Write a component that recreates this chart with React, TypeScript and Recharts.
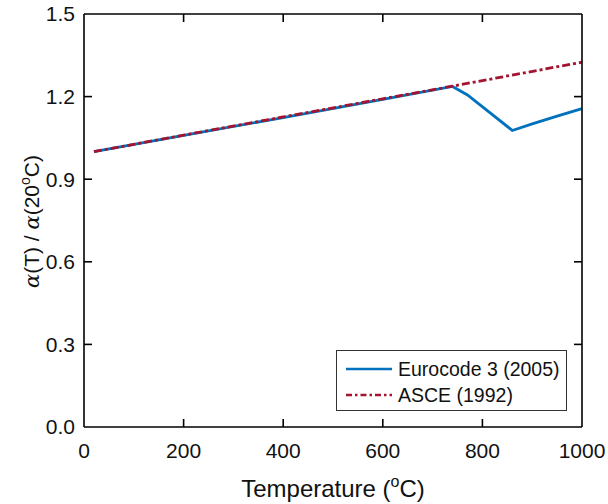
import React from 'react';
import { LineChart, Line, XAxis, YAxis, Label, ReferenceLine } from 'recharts';

const xTicks = [0, 200, 400, 600, 800, 1000];
const yTicks = [0, 0.3, 0.6, 0.9, 1.2, 1.5];

const eurocodeT = [20, 200, 400, 600, 740, 770, 860, 900, 950, 1000];
const eurocodeV = [1.0, 1.059, 1.124, 1.190, 1.237, 1.206, 1.077, 1.101, 1.129, 1.156];

const asceT = [20, 200, 400, 600, 740, 800, 1000];
const asceV = [1.0, 1.060, 1.126, 1.192, 1.238, 1.258, 1.325];

const eurocodeData = eurocodeT.map((T, i) => ({ T, v: eurocodeV[i] }));
const asceData = asceT.map((T, i) => ({ T, v: asceV[i] }));

const BLUE = '#0072BD';
const RED = '#A2142F';
const FONT = '"Liberation Sans", Arial, sans-serif';
const TXT = '#111';

const X_MIN = 0, X_MAX = 1000, Y_MIN = 0, Y_MAX = 1.5;
const PLOT_W = 498, PLOT_H = 413;
const TICK_PX = 8;
const tickLenY = (TICK_PX / PLOT_H) * (Y_MAX - Y_MIN);
const tickLenX = (TICK_PX / PLOT_W) * (X_MAX - X_MIN);

const axisLine = { stroke: '#000', strokeWidth: 1.6 };

const BottomTick = (props: any) => {
  const { x, y, payload } = props;
  return (
    <text x={x} y={y + 16} dy="0.71em" textAnchor="middle" fontFamily={FONT} fontSize={21} fill={TXT}>
      {payload.value}
    </text>
  );
};

const LeftTick = (props: any) => {
  const { x, y, payload } = props;
  return (
    <text x={x - 9} y={y} dy="0.355em" textAnchor="end" fontFamily={FONT} fontSize={21} fill={TXT}>
      {Number(payload.value).toFixed(1)}
    </text>
  );
};

const XLabel = (props: any) => {
  const vb = props.viewBox || { x: 84, y: 427, width: 498, height: 77 };
  const cx = vb.x + vb.width / 2;
  return (
    <text x={cx} y={vb.y + 70} textAnchor="middle" fontFamily={FONT} fontSize={24} fill={TXT}>
      <tspan>Temperature (</tspan>
      <tspan fontSize={16} dy={-10}>o</tspan>
      <tspan dy={10}>C)</tspan>
    </text>
  );
};

const YLabel = (props: any) => {
  const vb = props.viewBox || { x: 0, y: 14, width: 84, height: 413 };
  const cx = 39;
  const cy = vb.y + vb.height / 2 + 1;
  return (
    <text
      x={cx}
      y={cy}
      textAnchor="middle"
      transform={`rotate(-90 ${cx} ${cy})`}
      fontFamily={FONT}
      fontSize={21}
      fill={TXT}
    >
      <tspan fontFamily='"DejaVu Serif", serif' fontStyle="italic">α</tspan>
      <tspan>(T) / </tspan>
      <tspan fontFamily='"DejaVu Serif", serif' fontStyle="italic">α</tspan>
      <tspan>(20</tspan>
      <tspan fontSize={14} dy={-9}>o</tspan>
      <tspan dy={9}>C)</tspan>
    </text>
  );
};

const legendItems = [
  { name: 'Eurocode 3 (2005)', color: BLUE, dash: undefined as string | undefined },
  { name: 'ASCE (1992)', color: RED, dash: '6 3 2.5 3' },
];

const LegendBox = () => (
  <div
    style={{
      position: 'absolute',
      left: 336,
      top: 350,
      width: 231,
      height: 61,
      border: '1px solid #333',
      background: '#fff',
      fontFamily: FONT,
      fontSize: 19.5,
      color: TXT,
      boxSizing: 'border-box',
    }}
  >
    {legendItems.map((e, i) => (
      <div
        key={e.name}
        style={{ position: 'absolute', left: 9, top: 6 + i * 26, height: 24, display: 'flex', alignItems: 'center' }}
      >
        <svg width={47} height={10} style={{ display: 'block' }}>
          <line x1={0} y1={5} x2={46} y2={5} stroke={e.color} strokeWidth={2.6} strokeDasharray={e.dash} />
        </svg>
        <span style={{ marginLeft: 5, whiteSpace: 'nowrap' }}>{e.name}</span>
      </div>
    ))}
  </div>
);

const tickSegStyle = { stroke: '#000', strokeWidth: 1.6, ifOverflow: 'visible' as const };

export default function App() {
  return (
    <div style={{ position: 'fixed', left: 0, top: 0, width: 608, height: 504, background: '#fff' }}>
      <LineChart width={608} height={504} margin={{ top: 13, right: 25, left: 0, bottom: 0 }}>
        <XAxis
          xAxisId="b"
          type="number"
          dataKey="T"
          domain={[X_MIN, X_MAX]}
          ticks={xTicks}
          height={77}
          tickSize={0}
          tickMargin={0}
          axisLine={axisLine}
          tickLine={false}
          tick={<BottomTick />}
        >
          <Label content={<XLabel />} />
        </XAxis>
        <XAxis
          xAxisId="t"
          orientation="top"
          type="number"
          dataKey="T"
          domain={[X_MIN, X_MAX]}
          ticks={xTicks}
          height={1}
          axisLine={axisLine}
          tickLine={false}
          tick={false}
        />
        <YAxis
          yAxisId="l"
          type="number"
          domain={[Y_MIN, Y_MAX]}
          ticks={yTicks}
          width={84}
          tickSize={0}
          tickMargin={0}
          axisLine={axisLine}
          tickLine={false}
          tick={<LeftTick />}
        >
          <Label content={<YLabel />} />
        </YAxis>
        <YAxis
          yAxisId="r"
          orientation="right"
          type="number"
          domain={[Y_MIN, Y_MAX]}
          ticks={yTicks}
          width={1}
          axisLine={axisLine}
          tickLine={false}
          tick={false}
        />
        {xTicks.slice(1, -1).map((t) => (
          <ReferenceLine
            key={`xb${t}`}
            xAxisId="b"
            yAxisId="l"
            segment={[{ x: t, y: Y_MIN }, { x: t, y: Y_MIN + tickLenY }]}
            {...tickSegStyle}
          />
        ))}
        {xTicks.slice(1, -1).map((t) => (
          <ReferenceLine
            key={`xt${t}`}
            xAxisId="b"
            yAxisId="l"
            segment={[{ x: t, y: Y_MAX }, { x: t, y: Y_MAX - tickLenY }]}
            {...tickSegStyle}
          />
        ))}
        {yTicks.slice(1, -1).map((t) => (
          <ReferenceLine
            key={`yl${t}`}
            xAxisId="b"
            yAxisId="l"
            segment={[{ x: X_MIN, y: t }, { x: X_MIN + tickLenX, y: t }]}
            {...tickSegStyle}
          />
        ))}
        {yTicks.slice(1, -1).map((t) => (
          <ReferenceLine
            key={`yr${t}`}
            xAxisId="b"
            yAxisId="l"
            segment={[{ x: X_MAX, y: t }, { x: X_MAX - tickLenX, y: t }]}
            {...tickSegStyle}
          />
        ))}
        <Line
          xAxisId="b"
          yAxisId="l"
          data={eurocodeData}
          dataKey="v"
          stroke={BLUE}
          strokeWidth={2.8}
          dot={false}
          isAnimationActive={false}
          name="Eurocode 3 (2005)"
        />
        <Line
          xAxisId="b"
          yAxisId="l"
          data={asceData}
          dataKey="v"
          stroke={RED}
          strokeWidth={2.8}
          strokeDasharray="8 3 3 3"
          dot={false}
          isAnimationActive={false}
          name="ASCE (1992)"
        />
      </LineChart>
      <LegendBox />
    </div>
  );
}
